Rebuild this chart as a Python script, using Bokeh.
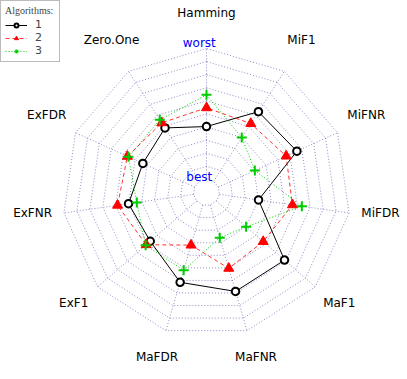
import numpy as np
from bokeh.plotting import figure
from bokeh.models import Range1d, Legend, LegendItem
from bokeh.embed import file_html
from bokeh.resources import INLINE
from bokeh.core.properties import value

# axes in counter-clockwise order starting at the top
categories = ["Hamming", "Zero.One", "ExFDR", "ExFNR", "ExF1", "MaFDR",
              "MaFNR", "MaF1", "MiFDR", "MiFNR", "MiF1"]
# scores as fraction of outer radius (centre = best, rim = worst)
alg1 = [0.458, 0.533, 0.486, 0.547, 0.517, 0.650, 0.716, 0.717, 0.365, 0.690, 0.667]
alg2 = [0.588, 0.575, 0.604, 0.624, 0.554, 0.381, 0.549, 0.521, 0.603, 0.608, 0.569]
alg3 = [0.678, 0.600, 0.596, 0.489, 0.559, 0.563, 0.327, 0.364, 0.669, 0.369, 0.453]
series_names = ["1", "2", "3"]
n_rings = 11

R = 144.0
W, H = 405, 377
cx, cy = 206.0, 192.0  # centre in figure pixels

p = figure(width=W, height=H, output_backend="svg", toolbar_location=None,
           x_range=Range1d(-cx / R, (W - cx) / R),
           y_range=Range1d(-(H - cy) / R, cy / R),
           x_axis_type=None, y_axis_type=None, min_border=0)
p.grid.visible = False
p.outline_line_color = None
p.background_fill_color = "white"

n = len(categories)
theta = np.deg2rad(90 + np.arange(n) * 360.0 / n)
ct, st = np.cos(theta), np.sin(theta)

grid_col = "navy"
# rings
rx, ry = [], []
for k in range(1, n_rings + 1):
    r = k / n_rings
    rx.append(list(np.append(ct, ct[0]) * r))
    ry.append(list(np.append(st, st[0]) * r))
p.multi_line(rx, ry, line_color=grid_col, line_alpha=0.45, line_width=1, line_dash="1 2")
# spokes
sx = [[ct[i] / n_rings, ct[i]] for i in range(n)]
sy = [[st[i] / n_rings, st[i]] for i in range(n)]
p.multi_line(sx, sy, line_color=grid_col, line_alpha=0.45, line_width=1, line_dash="1 2")

# axis labels
lr = 1.22
p.text(x=list(ct * lr), y=list(st * lr + 0.03), text=categories,
       text_font=value("DejaVu Sans"), text_font_size="12px",
       text_align="center", text_baseline="middle", text_color="black")
p.text(x=[-0.05, -0.05], y=[1.04, 0.105], text=["worst", "best"],
       text_font=value("DejaVu Sans"), text_font_size="12px",
       text_align="center", text_baseline="middle", text_color="blue")

styles = [
    dict(color="black", dash="solid", lalpha=1.0),
    dict(color="red", dash="4 3", lalpha=0.8),
    dict(color="#00cd00", dash="1 2", lalpha=1.0),
]
items = []
for vals, name, st_ in zip([alg1, alg2, alg3], series_names, styles):
    v = np.array(vals)
    xs = list(np.append(ct * v, ct[0] * v[0]))
    ys = list(np.append(st * v, st[0] * v[0]))
    lr_ = p.line(xs, ys, line_color=st_["color"], line_width=1,
                 line_dash=st_["dash"], line_alpha=st_["lalpha"])
    if name == "1":
        sr = p.scatter(list(ct * v), list(st * v), marker="circle", size=7.5,
                       fill_color="white", line_color="black", line_width=2)
    elif name == "2":
        sr = p.scatter(list(ct * v), list(st * v), marker="triangle", size=10,
                       fill_color="red", line_color="red", line_width=1)
    else:
        sr = p.scatter(list(ct * v), list(st * v), marker="cross", size=10,
                       line_color="#00cd00", line_width=2)
    items.append(LegendItem(label=name, renderers=[lr_, sr]))

legend = Legend(items=items, location="top_left", margin=0, padding=4,
                spacing=0, glyph_width=22, glyph_height=10, label_height=10,
                label_standoff=8, title="Algorithms:",
                title_text_font="Liberation Serif", title_text_font_size="10px",
                title_text_font_style="normal", title_standoff=2,
                label_text_font="DejaVu Sans", label_text_font_size="11px",
                label_text_line_height=0.8,
                border_line_color="#777777", border_line_width=1.5,
                background_fill_color="white", background_fill_alpha=1.0)
p.add_layout(legend)

open("out.html", "w").write(file_html(p, INLINE))
